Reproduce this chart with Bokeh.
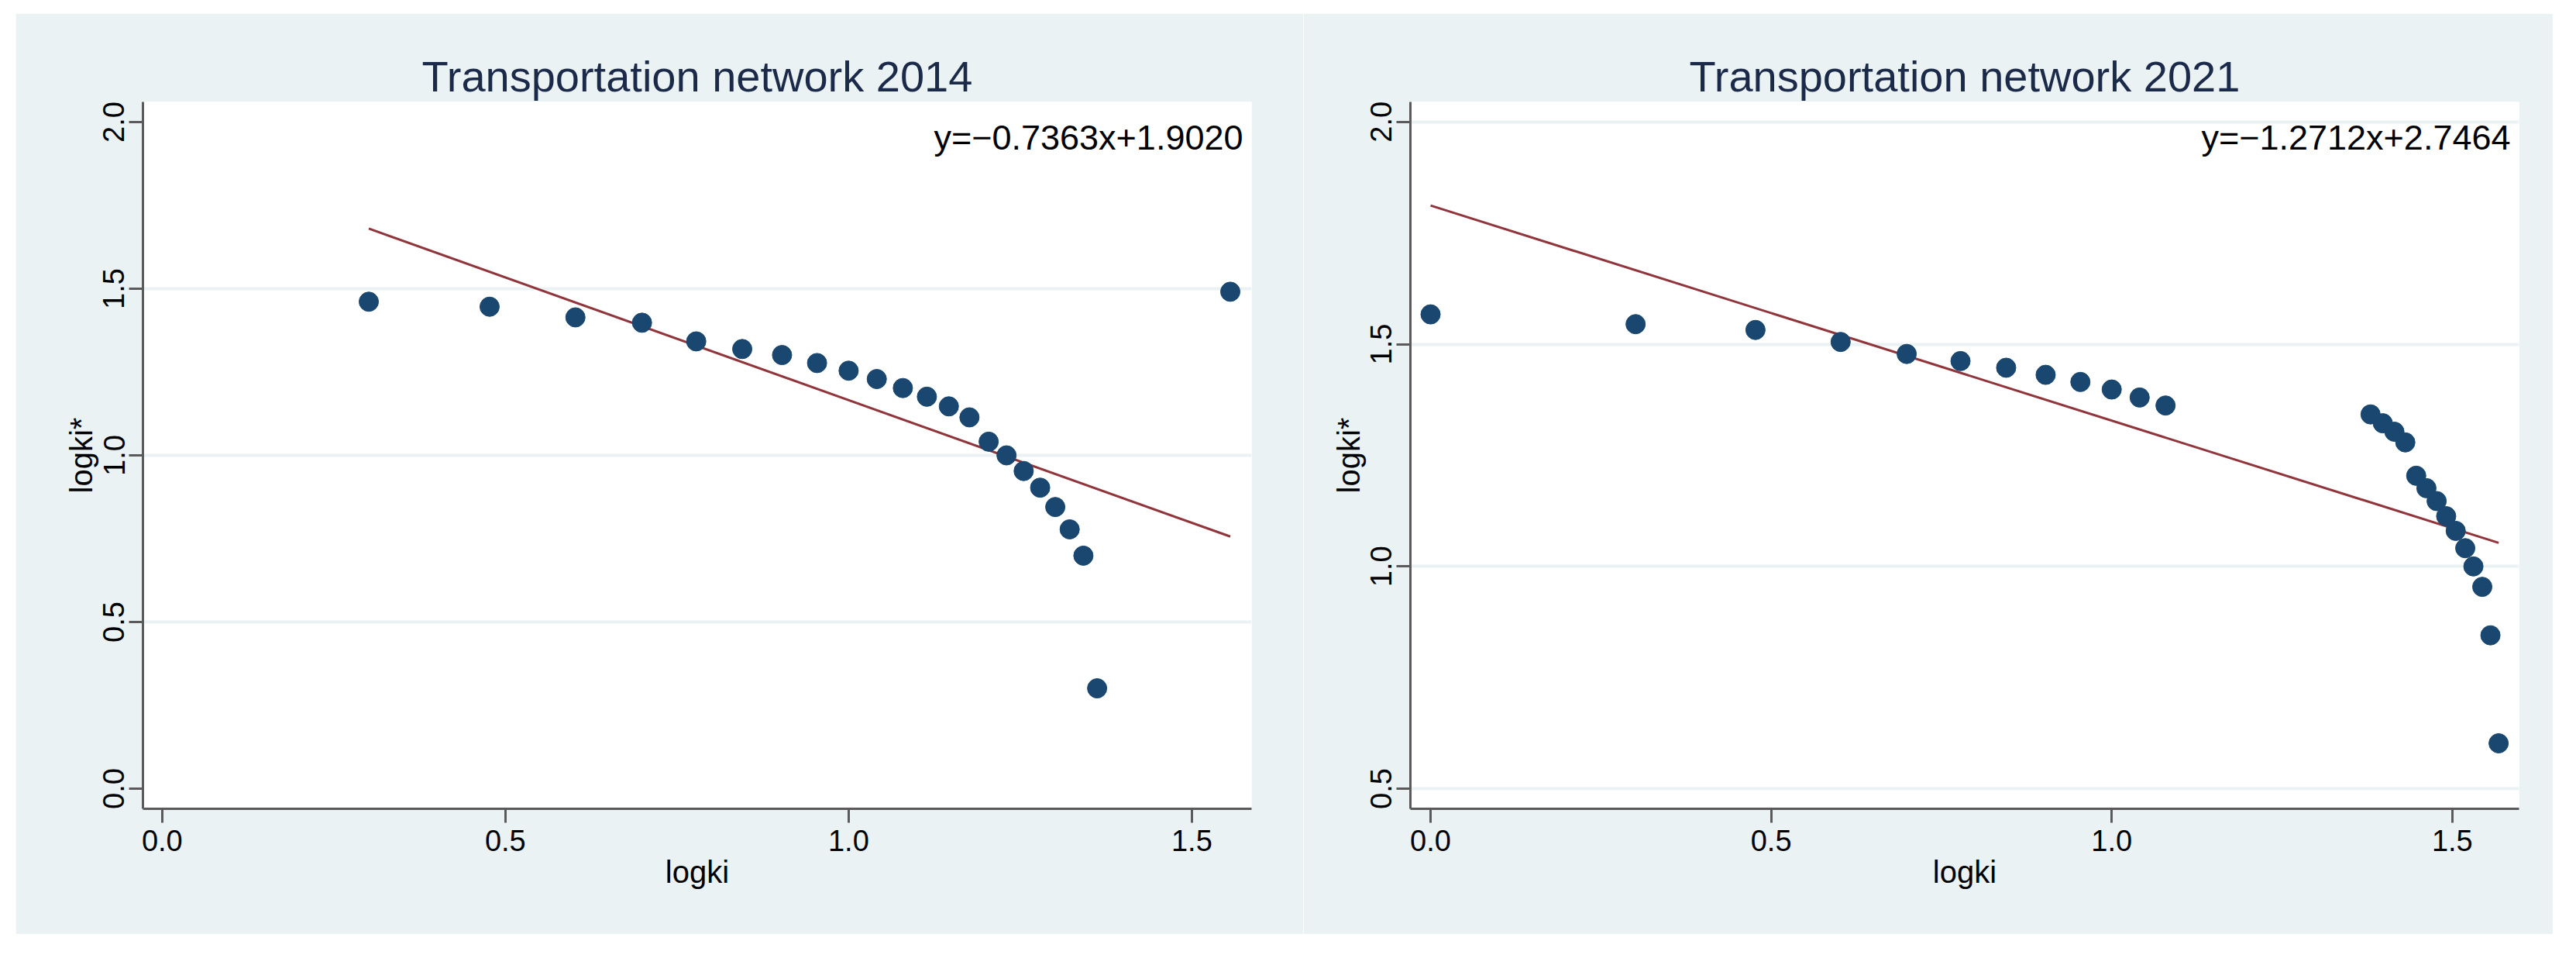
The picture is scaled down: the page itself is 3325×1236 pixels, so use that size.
import numpy as np
from bokeh.plotting import figure
from bokeh.layouts import row
from bokeh.models import Range1d, FixedTicker, PrintfTickFormatter, Label
from bokeh.embed import file_html
from bokeh.resources import INLINE

# ---------------- data ----------------
title_2014 = "Transportation network 2014"
logki_2014 = [0.301, 0.477, 0.602, 0.699, 0.778, 0.845, 0.903, 0.954, 1.000, 1.041,
              1.079, 1.114, 1.146, 1.176, 1.204, 1.230, 1.255, 1.279, 1.301, 1.322,
              1.342, 1.362, 1.556]
logkistar_2014 = [1.461, 1.446, 1.414, 1.398, 1.342, 1.319, 1.301, 1.277, 1.254, 1.229,
                  1.202, 1.176, 1.147, 1.114, 1.041, 1.000, 0.953, 0.903, 0.845, 0.778,
                  0.699, 0.301, 1.491]
equation_2014 = "y=\u22120.7363x+1.9020"
fit_slope_2014 = -0.7363      # fitted line as drawn in the picture
fit_intercept_2014 = 1.9020

title_2021 = "Transportation network 2021"
logki_2021 = [0.000, 0.301, 0.477, 0.602, 0.699, 0.778, 0.845, 0.903, 0.954, 1.000,
              1.041, 1.079, 1.380, 1.398, 1.415, 1.431, 1.447, 1.462, 1.477, 1.491,
              1.505, 1.519, 1.531, 1.544, 1.556, 1.568]
logkistar_2021 = [1.567, 1.545, 1.532, 1.505, 1.478, 1.462, 1.447, 1.431, 1.415, 1.398,
                  1.380, 1.362, 1.342, 1.322, 1.303, 1.279, 1.204, 1.176, 1.147, 1.113,
                  1.080, 1.041, 1.000, 0.954, 0.845, 0.602]
equation_2021 = "y=\u22121.2712x+2.7464"
fit_slope_2021 = -0.484       # fitted line as drawn in the picture
fit_intercept_2021 = 1.812

x_ticks = [0.0, 0.5, 1.0, 1.5]
y_ticks_2014 = [0.0, 0.5, 1.0, 1.5, 2.0]
y_grid_2014 = [0.5, 1.0, 1.5]
y_ticks_2021 = [0.5, 1.0, 1.5, 2.0]
y_grid_2021 = [0.5, 1.0, 1.5, 2.0]
x_label = "logki"
y_label = "logki*"

# ---------------- style ----------------
BG = "#EAF2F3"
NAVY = "#1A476F"
MAROON = "#90353B"
AXIS = "#5A5A5A"
FONT = "Liberation Sans"
H = 1188


def make_panel(title, x, y, eq, slope, intercept, xr, yr, yticks, gridticks,
               width, bl, br, margin):
    p = figure(width=width, height=H,
               x_range=Range1d(*xr), y_range=Range1d(*yr),
               output_backend="svg", toolbar_location=None,
               min_border_left=bl, min_border_right=br,
               min_border_top=114, min_border_bottom=162,
               border_fill_color=BG, background_fill_color="white",
               outline_line_color=None, margin=margin)
    p.title.text = title
    p.title.align = "center"
    p.title.text_font = FONT
    p.title.text_font_size = "56px"
    p.title.text_font_style = "normal"
    p.title.text_color = "#1C2A4A"
    p.title.standoff = 4

    xa = np.array(x)
    xs = np.array([xa.min(), xa.max()])
    p.line(xs, intercept + slope * xs, line_color=MAROON, line_width=3)

    p.scatter(x, y, size=25, fill_color=NAVY, line_color=NAVY)

    lab = Label(x=xr[1], y=yr[1], x_offset=-11, y_offset=-46, text=eq,
                text_align="right", text_baseline="alphabetic",
                text_font=FONT, text_font_size="45px", text_color="black")
    p.add_layout(lab)

    p.xgrid.grid_line_color = None
    p.ygrid.ticker = FixedTicker(ticks=gridticks)
    p.ygrid.grid_line_color = BG
    p.ygrid.grid_line_width = 4

    for ax in (p.xaxis[0], p.yaxis[0]):
        ax.axis_line_color = AXIS
        ax.axis_line_width = 3
        ax.major_tick_line_color = AXIS
        ax.major_tick_line_width = 3
        ax.major_tick_out = 18
        ax.major_tick_in = 0
        ax.minor_tick_line_color = None
        ax.major_label_text_font = FONT
        ax.major_label_text_font_size = "38px"
        ax.major_label_text_color = "black"
        ax.axis_label_text_font = FONT
        ax.axis_label_text_font_size = "40px"
        ax.axis_label_text_font_style = "normal"
        ax.axis_label_text_color = "black"
        ax.formatter = PrintfTickFormatter(format="%.1f")

    p.xaxis[0].ticker = FixedTicker(ticks=x_ticks)
    p.yaxis[0].ticker = FixedTicker(ticks=yticks)
    p.xaxis[0].axis_label = x_label
    p.yaxis[0].axis_label = y_label
    p.xaxis[0].major_label_standoff = 9
    p.xaxis[0].axis_label_standoff = 2
    p.yaxis[0].major_label_standoff = 6
    p.yaxis[0].axis_label_standoff = 4
    p.yaxis[0].major_label_orientation = "parallel"
    return p


p1 = make_panel(title_2014, logki_2014, logkistar_2014, equation_2014,
                fit_slope_2014, fit_intercept_2014,
                (-0.028, 1.587), (-0.0605, 2.0605), y_ticks_2014, y_grid_2014,
                1662, 164, 67, (17, 0, 0, 20))
p2 = make_panel(title_2021, logki_2021, logkistar_2021, equation_2021,
                fit_slope_2021, fit_intercept_2021,
                (-0.0296, 1.598), (0.4547, 2.045), y_ticks_2021, y_grid_2021,
                1613, 138, 44, (17, 0, 0, 0))

layout = row(p1, p2, spacing=0)
open("out.html", "w").write(file_html(layout, INLINE))
